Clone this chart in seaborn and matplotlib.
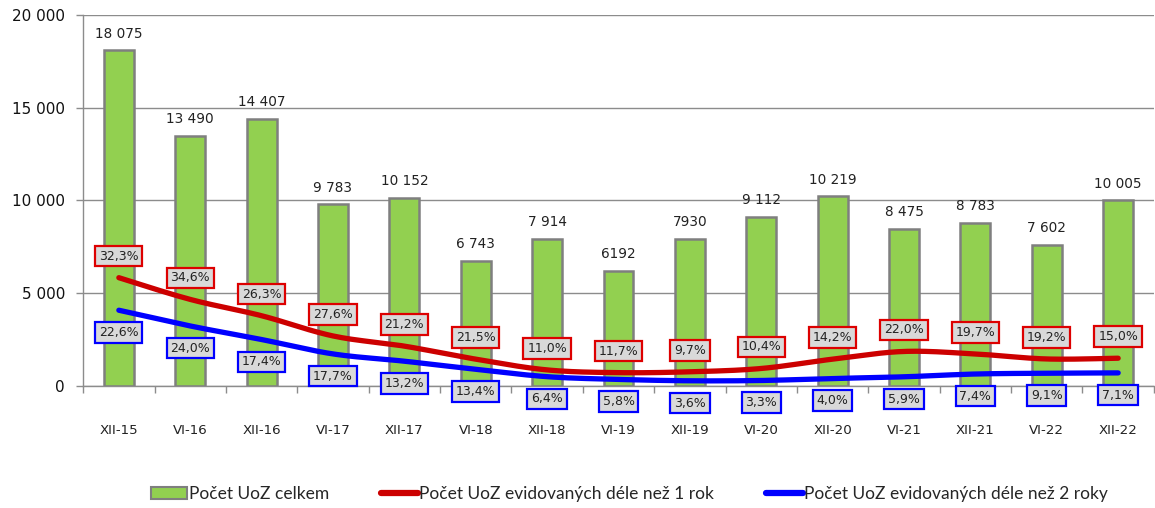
import numpy as np
import pandas as pd
import matplotlib
matplotlib.use("Agg")
import matplotlib.pyplot as plt
import seaborn as sns
from matplotlib.patches import Patch
from matplotlib.lines import Line2D

categories = ["XII-15", "VI-16", "XII-16", "VI-17", "XII-17", "VI-18", "XII-18", "VI-19",
              "XII-19", "VI-20", "XII-20", "VI-21", "XII-21", "VI-22", "XII-22"]
total = [18075, 13490, 14407, 9783, 10152, 6743, 7914, 6192, 7930, 9112, 10219, 8475, 8783, 7602, 10005]
total_labels = ["18 075", "13 490", "14 407", "9 783", "10 152", "6 743", "7 914", "6192",
                "7930", "9 112", "10 219", "8 475", "8 783", "7 602", "10 005"]
over1 = [5838, 4668, 3789, 2700, 2152, 1450, 871, 724, 769, 948, 1451, 1865, 1730, 1460, 1501]
over1_pct = ["32,3%", "34,6%", "26,3%", "27,6%", "21,2%", "21,5%", "11,0%", "11,7%", "9,7%",
             "10,4%", "14,2%", "22,0%", "19,7%", "19,2%", "15,0%"]
over2 = [4085, 3238, 2507, 1732, 1340, 904, 506, 359, 285, 301, 409, 500, 650, 692, 710]
over2_pct = ["22,6%", "24,0%", "17,4%", "17,7%", "13,2%", "13,4%", "6,4%", "5,8%", "3,6%",
             "3,3%", "4,0%", "5,9%", "7,4%", "9,1%", "7,1%"]
legend_labels = ["Počet UoZ celkem", "Počet UoZ evidovaných déle než 1 rok",
                 "Počet UoZ evidovaných déle než 2 roky"]
yticks = [0, 5000, 10000, 15000, 20000]
ytick_labels = ["0", "5 000", "10 000", "15 000", "20 000"]

sns.set_theme(style="white")
plt.rcParams["font.family"] = ["Lato", "DejaVu Sans"]

GREEN = "#92d050"
RED = "#cc0000"
BLUE = "#0000ff"
GRAY = "#8c8c8c"


def smooth(xs, ys, n=24):
    pts = np.column_stack([xs, ys]).astype(float)
    out = []
    m = len(pts)
    for i in range(m - 1):
        p0 = pts[i - 1] if i > 0 else pts[i]
        p1 = pts[i]
        p2 = pts[i + 1]
        p3 = pts[i + 2] if i + 2 < m else pts[i + 1]
        c1 = p1 + (p2 - p0) / 6.0
        c2 = p2 - (p3 - p1) / 6.0
        t = np.linspace(0, 1, n, endpoint=(i == m - 2))[:, None]
        seg = ((1 - t) ** 3) * p1 + 3 * ((1 - t) ** 2) * t * c1 + 3 * (1 - t) * t ** 2 * c2 + t ** 3 * p2
        out.append(seg)
    out = np.vstack(out)
    return out[:, 0], out[:, 1]


df = pd.DataFrame({"cat": categories, "total": total})

fig = plt.figure(figsize=(11.55, 5.08), dpi=100)
ax = fig.add_axes([0.072, 0.240, 0.927, 0.731])

sns.barplot(data=df, x="cat", y="total", order=categories, color=GREEN, saturation=1,
            edgecolor="#7f7f7f", linewidth=1.8, width=0.42, ax=ax, zorder=2)

xs = np.arange(len(categories))
sx, sy = smooth(xs, over1)
ax.plot(sx, sy, color=RED, lw=3.8, solid_capstyle="round", zorder=3)
sx, sy = smooth(xs, over2)
ax.plot(sx, sy, color=BLUE, lw=3.8, solid_capstyle="round", zorder=3)

# bar labels
for i, (v, lab) in enumerate(zip(total, total_labels)):
    ax.annotate(lab, (i, v), xytext=(0, 7), textcoords="offset points", ha="center",
                va="bottom", fontsize=9.8, color="#222222", family=["DejaVu Sans"], zorder=5)

for i, (v, lab) in enumerate(zip(over1, over1_pct)):
    ax.annotate(lab, (i, v), xytext=(0, 15.5), textcoords="offset points", ha="center",
                va="center", fontsize=9, color="#222222", family=["DejaVu Sans"], zorder=6,
                bbox=dict(boxstyle="square,pad=0.3", fc="#d9d9d9", ec="#dd0000", lw=1.6))
for i, (v, lab) in enumerate(zip(over2, over2_pct)):
    ax.annotate(lab, (i, v), xytext=(0, -16), textcoords="offset points", ha="center",
                va="center", fontsize=9, color="#222222", family=["DejaVu Sans"], zorder=6,
                bbox=dict(boxstyle="square,pad=0.3", fc="#d9d9d9", ec=BLUE, lw=1.6))

ax.set_xlim(-0.5, len(categories) - 0.5)
ax.set_ylim(0, 20000)
ax.set_yticks(yticks)
ax.set_yticklabels(ytick_labels, fontsize=11, family=["DejaVu Sans"], color="#111111")
ax.set_xticks(xs)
ax.set_xticklabels(categories, fontsize=9.6, family=["DejaVu Sans"], color="#222222")
ax.set_xticks(np.arange(len(categories) + 1) - 0.5, minor=True)
ax.tick_params(axis="x", which="major", length=0, pad=27)
ax.tick_params(axis="x", which="minor", length=5, color=GRAY, width=1, direction="out", bottom=True)
ax.tick_params(axis="y", which="major", length=5, color=GRAY, width=1, direction="out", left=True, pad=8)
ax.set_xlabel("")
ax.set_ylabel("")
ax.yaxis.grid(True, color=GRAY, lw=1, zorder=0)
ax.set_axisbelow(True)
for s in ["top", "right"]:
    ax.spines[s].set_visible(False)
for s in ["left", "bottom"]:
    ax.spines[s].set_color(GRAY)
    ax.spines[s].set_linewidth(1)

handles = [Patch(facecolor=GREEN, edgecolor="#7f7f7f", lw=1.5),
           Line2D([0], [0], color=RED, lw=4.5),
           Line2D([0], [0], color=BLUE, lw=4.5)]
fig.legend(handles, legend_labels, loc="center", bbox_to_anchor=(0.545, 0.027), ncol=3,
           frameon=False, fontsize=12.5, handlelength=2.1, handletextpad=0.1, columnspacing=3.0)

fig.savefig("out.png", dpi=100)
